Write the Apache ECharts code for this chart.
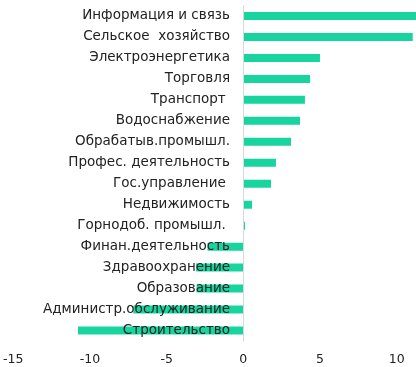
<!DOCTYPE html>
<html><head><meta charset="utf-8">
<script src="https://cdn.jsdelivr.net/npm/echarts@6/dist/echarts.min.js"></script>
<style>html,body{margin:0;padding:0;background:#fff}#c{width:416px;height:367px}</style>
</head><body><div id="c"></div>
<script>
const categories = ["Информация и связь","Сельское  хозяйство","Электроэнергетика","Торговля","Транспорт ","Водоснабжение","Обрабатыв.промышл.","Профес. деятельность","Гос.управление ","Недвижимость","Горнодоб. промышл. ","Финан.деятельность","Здравоохранение","Образование","Администр.обслуживание","Строительство"];
const values = [11.4, 11.05, 5.0, 4.35, 4.02, 3.7, 3.11, 2.13, 1.81, 0.57, 0.11, -2.33, -3.08, -3.05, -7.17, -10.78];
const xTicks = {min: -15, max: 15, interval: 5};

const chart = echarts.init(document.getElementById('c'), null, {renderer: 'canvas'});
chart.setOption({
  animation: false,
  grid: {left: 13.3, right: -57.3, top: 5.5, bottom: 26, containLabel: false, outerBoundsMode: 'none'},
  xAxis: {
    type: 'value', min: xTicks.min, max: xTicks.max, interval: xTicks.interval,
    axisLine: {show: false}, axisTick: {show: false}, splitLine: {show: false},
    axisLabel: {color: '#222', fontFamily: 'DejaVu Sans', fontSize: 12.5, margin: 12}
  },
  yAxis: {
    type: 'category', data: categories, inverse: true, z: 10,
    axisLine: {show: true, onZero: true, lineStyle: {color: '#d9d9d9', width: 1}},
    axisTick: {show: false},
    axisLabel: {color: '#222', fontFamily: 'DejaVu Sans', fontSize: 13.5, margin: -216.7}
  },
  series: [{
    type: 'bar', data: values, barWidth: 8,
    itemStyle: {color: '#18d5a0'}
  }]
});
</script></body></html>
